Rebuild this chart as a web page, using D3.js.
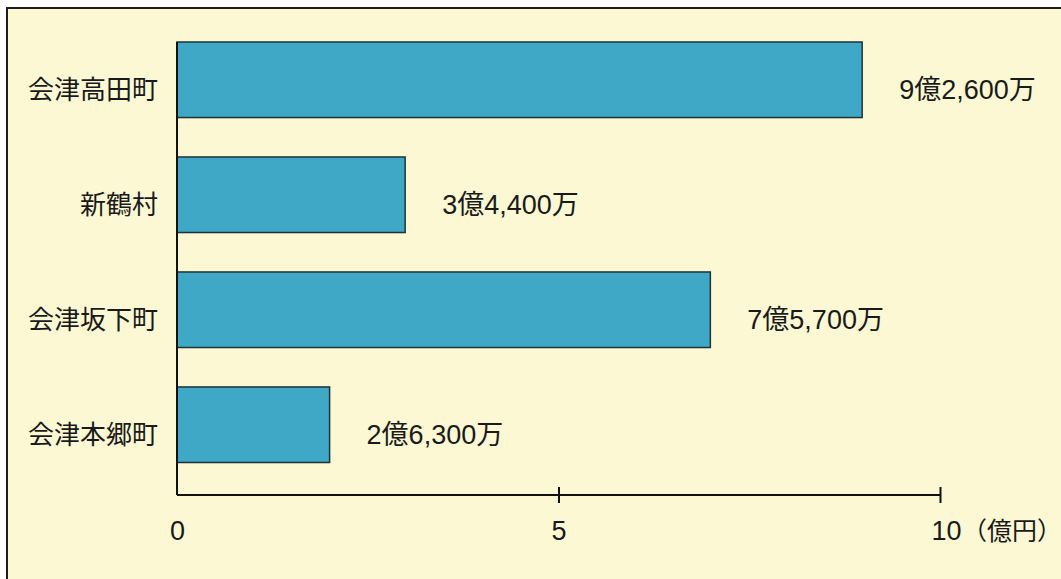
<!DOCTYPE html>
<html>
<head>
<meta charset="utf-8">
<script src="https://cdnjs.cloudflare.com/ajax/libs/d3/7.8.5/d3.min.js"></script>
<style>
  body { margin: 0; background: #ffffff; }
  svg text { font-family: "Noto Sans CJK JP", "Noto Sans", sans-serif; fill: #1a1a1a; }
  svg text.num { font-family: "Liberation Sans", "Noto Sans CJK JP", sans-serif; }
</style>
</head>
<body>
<script>
/* towns, top to bottom */
var towns = ["会津高田町", "新鶴村", "会津坂下町", "会津本郷町"]
/* bar lengths as drawn in the picture (億円) */
var barValues = [8.98, 2.99, 6.99, 2.0]
/* printed amounts next to the bars */
var amountLabels = ["9億2,600万", "3億4,400万", "7億5,700万", "2億6,300万"]
/* axis ticks */
var tickValues = [0, 5, 10]
var unitLabel = "（億円）"

var width = 1061
var height = 579

var svg = d3.select("body")
  .append("svg")
  .attr("width", width)
  .attr("height", height)

/* pale yellow panel with a frame on the top and left */
svg.append("rect")
  .attr("x", 7)
  .attr("y", 8)
  .attr("width", width + 20)
  .attr("height", height + 20)
  .attr("fill", "#fcf8d3")
  .attr("stroke", "#1c1c1c")
  .attr("stroke-width", 2)

var x = d3.scaleLinear()
  .domain([0, 10])
  .range([177, 940])

var y = d3.scaleBand()
  .domain(towns)
  .range([42, 462.5])
  .paddingInner(0.343)
  .paddingOuter(0)

var axisY = 495

/* bars */
svg.append("g")
  .selectAll("rect")
  .data(towns)
  .enter()
  .append("rect")
  .attr("x", x(0))
  .attr("y", function(d) { return y(d) })
  .attr("width", function(d, i) { return x(barValues[i]) - x(0) })
  .attr("height", y.bandwidth())
  .attr("fill", "#3ea8c6")
  .attr("stroke", "#1d3338")
  .attr("stroke-width", 1.5)

/* town names on the left */
svg.append("g")
  .selectAll("text")
  .data(towns)
  .enter()
  .append("text")
  .attr("x", 158)
  .attr("y", function(d) { return y(d) + y.bandwidth() / 2 + 19 })
  .attr("text-anchor", "end")
  .attr("font-size", 26)
  .text(function(d) { return d })

/* amounts after the bars */
svg.append("g")
  .selectAll("text")
  .data(towns)
  .enter()
  .append("text")
  .attr("class", "num")
  .attr("x", function(d, i) { return x(barValues[i]) + 37 })
  .attr("y", function(d) { return y(d) + y.bandwidth() / 2 + 19 })
  .attr("font-size", 27)
  .text(function(d, i) { return amountLabels[i] })

/* left axis line */
svg.append("line")
  .attr("x1", x(0))
  .attr("x2", x(0))
  .attr("y1", y(towns[0]))
  .attr("y2", axisY)
  .attr("stroke", "#111")
  .attr("stroke-width", 2)

/* bottom axis */
var xAxis = d3.axisBottom(x)
  .tickValues(tickValues)
  .tickSize(8)
  .tickFormat(d3.format("d"))

var gx = svg.append("g")
  .attr("transform", "translate(0," + axisY + ")")
  .call(xAxis)

gx.select(".domain")
  .attr("stroke", "#111")
  .attr("stroke-width", 2)
  .attr("d", "M" + x(0) + ",0H" + x(10))

gx.selectAll(".tick line")
  .attr("stroke", "#111")
  .attr("stroke-width", 2)
  .attr("y1", -8)
  .attr("y2", 8)

gx.selectAll(".tick")
  .filter(function(d) { return d === 0 })
  .select("line").remove()

gx.selectAll(".tick text")
  .attr("class", "num")
  .attr("font-size", 27)
  .attr("font-family", null)
  .attr("fill", "#1a1a1a")
  .attr("y", 45)
  .attr("dy", null)
  .attr("dx", function(d) { return d === 10 ? 6 : 0 })

/* unit after the last tick */
svg.append("text")
  .attr("x", x(10) + 22)
  .attr("y", axisY + 45)
  .attr("font-size", 25)
  .text(unitLabel)
</script>
</body>
</html>
